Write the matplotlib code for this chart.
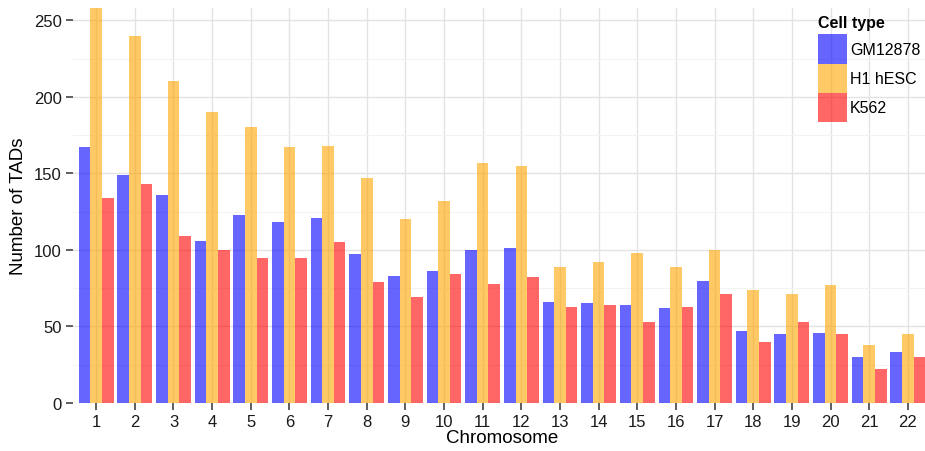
import numpy as np
import matplotlib.pyplot as plt
from matplotlib.patches import Patch

plt.rcParams['font.family'] = ['Liberation Sans', 'DejaVu Sans']

chromosomes = [str(i) for i in range(1, 23)]
cell_types = ["GM12878", "H1 hESC", "K562"]

gm12878 = [167, 149, 136, 106, 123, 118, 121, 97, 83, 86, 100, 101,
           66, 65, 64, 62, 80, 47, 45, 46, 30, 33]
h1_hesc = [259, 240, 210, 190, 180, 167, 168, 147, 120, 132, 157, 155,
           89, 92, 98, 89, 100, 74, 71, 77, 38, 45]
k562 = [134, 143, 109, 100, 95, 95, 105, 79, 69, 84, 78, 82,
        63, 64, 53, 63, 71, 40, 53, 45, 22, 30]

series = [gm12878, h1_hesc, k562]
colors = ["blue", "orange", "red"]

fig = plt.figure(figsize=(9.25, 4.52), dpi=100)
W, H = 925, 452
left, right, top, bottom = 73, 931, 9, 404
ax = fig.add_axes([left / W, 1 - bottom / H, (right - left) / W, (bottom - top) / H])

x = np.arange(1, len(chromosomes) + 1)
width = 0.9 / 3
for i, (vals, c) in enumerate(zip(series, colors)):
    ax.bar(x + (i - 1) * width, vals, width=width, color=c, alpha=0.6,
           linewidth=0, zorder=3)

ax.set_xlim(0.4, 22.6)
ax.set_ylim(0, 258)
ax.set_xticks(x)
ax.set_xticklabels(chromosomes)
ax.set_yticks([0, 50, 100, 150, 200, 250])
ax.set_yticks([25, 75, 125, 175, 225], minor=True)

ax.grid(True, which='major', color='#e3e3e3', linewidth=1.0, zorder=0)
ax.grid(True, which='minor', axis='y', color='#f3f3f3', linewidth=0.8, zorder=0)
for s in ax.spines.values():
    s.set_visible(False)
ax.tick_params(axis='both', which='major', length=5, width=1.1, color='#333333',
               labelsize=12, labelcolor='#1a1a1a', pad=3)
ax.tick_params(axis='y', which='minor', length=0)

ax.set_xlabel("Chromosome", fontsize=13.5, labelpad=0)
ax.set_ylabel("Number of TADs", fontsize=13.5, labelpad=5)

handles = [Patch(facecolor=c, alpha=0.6, linewidth=0) for c in colors]
leg = fig.legend(handles, cell_types, title="Cell type", loc='upper left',
                 bbox_to_anchor=(818 / W, 1 - 16 / H), frameon=False,
                 fontsize=11.5, title_fontproperties={'weight': 'bold', 'size': 11.5},
                 handlelength=1.8, handleheight=2.45, labelspacing=0,
                 handletextpad=0.2, borderpad=0, borderaxespad=0)
leg._legend_box.align = "left"
leg._legend_box.sep = 3

fig.savefig("out.png", dpi=100)
